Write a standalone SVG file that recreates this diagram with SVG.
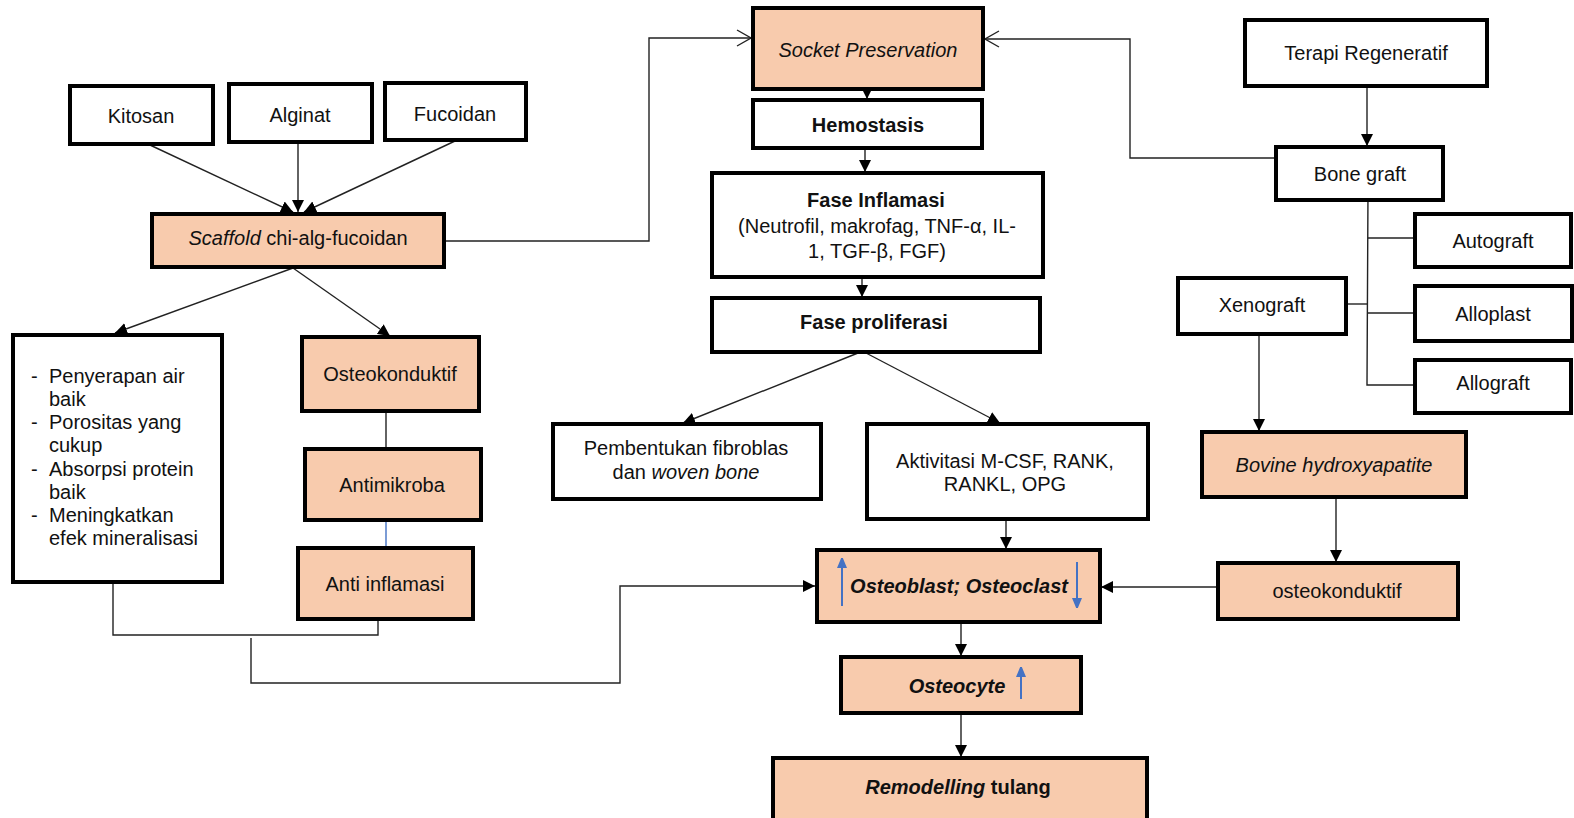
<svg xmlns="http://www.w3.org/2000/svg" width="1574" height="818" viewBox="0 0 1574 818">
<style>
.b{fill:#fff;stroke:#000;stroke-width:4}
.f{fill:#F8CBAD;stroke:#000;stroke-width:4}
text{font-family:"Liberation Sans",Arial,sans-serif;font-size:20px;fill:#111}
.c{text-anchor:middle}
.bd{font-weight:bold}
.it{font-style:italic}
.ln{fill:none;stroke:#222;stroke-width:1.4}
.bl{fill:none;stroke:#4472C4;stroke-width:2}
</style>
<defs>
<marker id="ah" markerUnits="userSpaceOnUse" markerWidth="12" markerHeight="12" viewBox="0 0 12 12" refX="12" refY="6" orient="auto"><path d="M0,0 L12,6 L0,12 z" fill="#000"/></marker>
<marker id="oh" markerUnits="userSpaceOnUse" markerWidth="16" markerHeight="20" viewBox="0 0 16 20" refX="15" refY="10" orient="auto"><path d="M1,2 L15,10 L1,18" fill="none" stroke="#222" stroke-width="1.4"/></marker>
<marker id="bh" markerUnits="userSpaceOnUse" markerWidth="10" markerHeight="12" viewBox="0 0 10 12" refX="10" refY="5" orient="auto"><path d="M0,0 L12,5 L0,10 z" fill="#4472C4"/></marker>
</defs>
<g id="connectors">
<line class="ln" x1="150" y1="145" x2="293" y2="212" marker-end="url(#ah)"/>
<line class="ln" x1="298" y1="143" x2="298" y2="212" marker-end="url(#ah)"/>
<line class="ln" x1="455" y1="141" x2="304" y2="212" marker-end="url(#ah)"/>
<polyline class="ln" points="446,241 649,241 649,38 751,38" marker-end="url(#oh)"/>
<polyline class="ln" points="1274,158 1130,158 1130,39 985,39" marker-end="url(#oh)"/>
<line class="ln" x1="867" y1="80" x2="867" y2="99" marker-end="url(#ah)"/>
<line class="ln" x1="865" y1="150" x2="865" y2="172" marker-end="url(#ah)"/>
<line class="ln" x1="862" y1="279" x2="862" y2="297" marker-end="url(#ah)"/>
<line class="ln" x1="858" y1="353" x2="683" y2="423" marker-end="url(#ah)"/>
<line class="ln" x1="866" y1="353" x2="1000" y2="423" stroke-width="2.2" marker-end="url(#ah)"/>
<line class="ln" x1="1006" y1="521" x2="1006" y2="549" marker-end="url(#ah)"/>
<line class="ln" x1="961" y1="624" x2="961" y2="656" marker-end="url(#ah)"/>
<line class="ln" x1="961" y1="715" x2="961" y2="757" marker-end="url(#ah)"/>
<line class="ln" x1="1216" y1="587" x2="1101" y2="587" marker-end="url(#ah)"/>
<line class="ln" x1="1336" y1="499" x2="1336" y2="562" marker-end="url(#ah)"/>
<line class="ln" x1="1259" y1="336" x2="1259" y2="431" marker-end="url(#ah)"/>
<line class="ln" x1="1367" y1="88" x2="1367" y2="146" marker-end="url(#ah)"/>
<polyline class="ln" points="1368,190 1367,385 1415,385"/>
<line class="ln" x1="1368" y1="238" x2="1415" y2="238"/>
<line class="ln" x1="1368" y1="313" x2="1415" y2="313"/>
<line class="ln" x1="1346" y1="304" x2="1368" y2="304"/>
<line class="ln" x1="293" y1="268" x2="115" y2="333" marker-end="url(#ah)"/>
<line class="ln" x1="293" y1="268" x2="390" y2="336" marker-end="url(#ah)"/>
<line class="ln" x1="386" y1="413" x2="386" y2="449"/>
<line x1="386" y1="522" x2="386" y2="548" stroke="#4472C4" stroke-width="1.4"/>
<polyline class="ln" points="113,584 113,635 378,635 378,621"/>
<polyline class="ln" points="251,638 251,683 620,683 620,586 815,586" marker-end="url(#ah)"/>
</g>
<g id="kitosan"><rect class="b" x="70" y="86" width="143" height="58"/><text class="c" x="141" y="123">Kitosan</text></g>
<g id="alginat"><rect class="b" x="229" y="84" width="143" height="58"/><text class="c" x="300" y="122">Alginat</text></g>
<g id="fucoidan"><rect class="b" x="385" y="83" width="141" height="57"/><text class="c" x="455" y="121">Fucoidan</text></g>
<g id="scaffold"><rect class="f" x="152" y="214" width="292" height="53"/><text class="c" x="298" y="245"><tspan class="it">Scaffold</tspan> chi-alg-fucoidan</text></g>
<g id="socket"><rect class="f" x="753" y="8" width="230" height="81"/><text class="c it" x="868" y="57">Socket Preservation</text></g>
<g id="hemostasis"><rect class="b" x="753" y="100" width="229" height="48"/><text class="c bd" x="868" y="132">Hemostasis</text></g>
<g id="inflamasi"><rect class="b" x="712" y="173" width="331" height="104"/><text class="c bd" x="876" y="207">Fase Inflamasi</text><text class="c" x="877" y="233">(Neutrofil, makrofag, TNF-α, IL-</text><text class="c" x="877" y="258">1, TGF-β, FGF)</text></g>
<g id="proliferasi"><rect class="b" x="712" y="298" width="328" height="54"/><text class="c bd" x="874" y="329">Fase proliferasi</text></g>
<g id="terapi"><rect class="b" x="1245" y="20" width="242" height="66"/><text class="c" x="1366" y="60">Terapi Regeneratif</text></g>
<g id="bonegraft"><rect class="b" x="1276" y="147" width="167" height="53"/><text class="c" x="1360" y="181">Bone graft</text></g>
<g id="autograft"><rect class="b" x="1415" y="214" width="156" height="53"/><text class="c" x="1493" y="248">Autograft</text></g>
<g id="alloplast"><rect class="b" x="1415" y="286" width="157" height="55"/><text class="c" x="1493" y="321">Alloplast</text></g>
<g id="allograft"><rect class="b" x="1415" y="360" width="156" height="53"/><text class="c" x="1493" y="390">Allograft</text></g>
<g id="xenograft"><rect class="b" x="1178" y="278" width="168" height="56"/><text class="c" x="1262" y="312">Xenograft</text></g>
<g id="sifat"><rect class="b" x="13" y="335" width="209" height="247"/>
<text x="31" y="383">-</text><text x="49" y="383">Penyerapan air</text><text x="49" y="406">baik</text>
<text x="31" y="429">-</text><text x="49" y="429">Porositas yang</text><text x="49" y="452">cukup</text>
<text x="31" y="476">-</text><text x="49" y="476">Absorpsi protein</text><text x="49" y="499">baik</text>
<text x="31" y="522">-</text><text x="49" y="522">Meningkatkan</text><text x="49" y="545">efek mineralisasi</text></g>
<g id="osteokonduktif-l"><rect class="f" x="302" y="337" width="177" height="74"/><text class="c" x="390" y="381">Osteokonduktif</text></g>
<g id="antimikroba"><rect class="f" x="305" y="449" width="176" height="71"/><text class="c" x="392" y="492">Antimikroba</text></g>
<g id="antiinflamasi"><rect class="f" x="298" y="548" width="175" height="71"/><text class="c" x="385" y="591">Anti inflamasi</text></g>
<g id="pembentukan"><rect class="b" x="553" y="424" width="268" height="75"/><text class="c" x="686" y="455">Pembentukan fibroblas</text><text class="c" x="686" y="479">dan <tspan class="it">woven bone</tspan></text></g>
<g id="aktivitasi"><rect class="b" x="867" y="424" width="281" height="95"/><text class="c" x="1005" y="468">Aktivitasi M-CSF, RANK,</text><text class="c" x="1005" y="491">RANKL, OPG</text></g>
<g id="bovine"><rect class="f" x="1202" y="432" width="264" height="65"/><text class="c it" x="1334" y="472">Bovine hydroxyapatite</text></g>
<g id="osteokonduktif-r"><rect class="f" x="1218" y="563" width="240" height="56"/><text class="c" x="1337" y="598">osteokonduktif</text></g>
<g id="osteoblast"><rect class="f" x="817" y="550" width="283" height="72"/><text class="c bd it" x="959" y="593">Osteoblast; Osteoclast</text>
<line class="bl" x1="842" y1="606" x2="842" y2="558" marker-end="url(#bh)"/><line class="bl" x1="1077" y1="562" x2="1077" y2="608" marker-end="url(#bh)"/></g>
<g id="osteocyte"><rect class="f" x="841" y="657" width="240" height="56"/><text class="c bd it" x="957" y="693">Osteocyte</text><line class="bl" x1="1021" y1="699" x2="1021" y2="667" marker-end="url(#bh)"/></g>
<g id="remodelling"><rect class="f" x="773" y="758" width="374" height="72"/><text class="c" x="958" y="794"><tspan class="bd it">Remodelling</tspan><tspan class="bd"> tulang</tspan></text></g>
</svg>
